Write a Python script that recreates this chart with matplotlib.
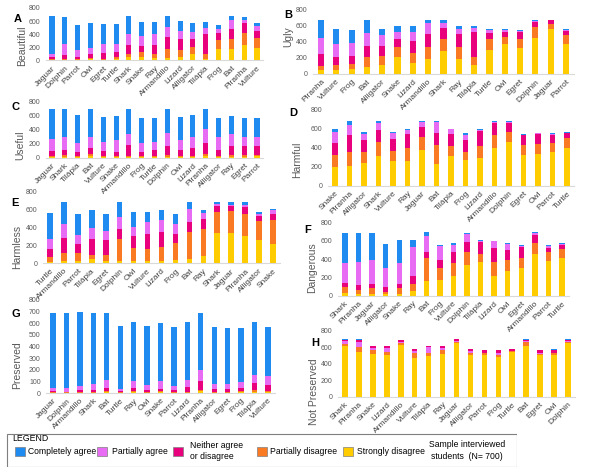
import numpy as np
import matplotlib
matplotlib.use('Agg')
import matplotlib.pyplot as plt
from matplotlib.patches import Rectangle

plt.rcParams['font.family'] = ['Liberation Sans', 'DejaVu Sans']

# legend entries, bottom-to-top stacking order of the bars
levels = ['Strongly disagree', 'Partially disagree', 'Neither agree\nor disagree',
          'Partially agree', 'Completely agree']
colors = ['#ffcc00', '#f97a22', '#e8007d', '#e76bf3', '#1f8bf0']

# each panel: animal order + rows (strongly dis., partially dis., neither, partially agree, completely agree)
beautiful_animals = ['Jaguar', 'Dolphin', 'Parrot', 'Owl', 'Egret', 'Turtle', 'Shark', 'Snake', 'Ray',
                     'Armandillo', 'Lizard', 'Alligator', 'Tilápia', 'Frog', 'Bat', 'Piranha', 'Vulture']
beautiful = [[5, 5, 5, 15, 5, 15, 45, 55, 35, 35, 50, 90, 25, 170, 170, 235, 195],
             [10, 10, 20, 20, 20, 40, 45, 70, 65, 140, 105, 110, 65, 135, 150, 175, 150],
             [30, 65, 30, 55, 80, 70, 145, 100, 135, 185, 170, 125, 310, 105, 155, 165, 100],
             [50, 175, 110, 100, 145, 130, 165, 150, 165, 150, 125, 110, 90, 70, 140, 40, 75],
             [585, 410, 380, 375, 300, 300, 280, 215, 190, 175, 150, 130, 100, 65, 70, 50, 45]]

ugly_animals = ['Piranha', 'Vulture', 'Frog', 'Bat', 'Alligator', 'Snake', 'Lizard', 'Armandillo', 'Shark',
                'Ray', 'Tilápia', 'Turtle', 'Owl', 'Egret', 'Dolphin', 'Jaguar', 'Parrot']
ugly = [[50, 55, 65, 90, 115, 215, 140, 190, 290, 190, 115, 295, 370, 320, 450, 565, 380],
        [55, 60, 65, 125, 105, 125, 120, 145, 150, 150, 95, 140, 90, 115, 140, 60, 110],
        [150, 100, 90, 140, 125, 100, 150, 160, 135, 155, 310, 80, 60, 95, 60, 45, 50],
        [200, 165, 165, 160, 140, 80, 120, 140, 65, 70, 60, 30, 25, 5, 15, 5, 10],
        [225, 180, 160, 155, 80, 80, 65, 45, 40, 35, 20, 15, 15, 10, 15, 5, 10]]

useful_animals = ['Jaguar', 'Shark', 'Tilápia', 'Bat', 'Vulture', 'Snake', 'Armandillo', 'Frog', 'Turtle',
                  'Dolphin', 'Owl', 'Lizard', 'Piranha', 'Alligator', 'Ray', 'Egret', 'Parrot']
useful = [[10, 15, 10, 25, 15, 15, 10, 15, 15, 15, 15, 15, 25, 15, 15, 15, 20],
          [15, 20, 15, 25, 15, 15, 20, 15, 15, 25, 15, 15, 35, 15, 25, 20, 25],
          [75, 80, 60, 85, 60, 55, 150, 55, 85, 130, 80, 110, 155, 85, 130, 135, 125],
          [170, 185, 125, 165, 135, 170, 155, 130, 110, 180, 150, 160, 195, 180, 165, 125, 130],
          [425, 395, 400, 395, 355, 350, 365, 350, 345, 350, 320, 315, 290, 280, 270, 270, 265]]

harmful_animals = ['Snake', 'Piranha', 'Alligator', 'Shark', 'Vulture', 'Ray', 'Jaguar', 'Bat', 'Tilápia',
                   'Frog', 'Lizard', 'Armandillo', 'Dolphin', 'Egret', 'Owl', 'Parrot', 'Turtle']
harmful = [[200, 205, 240, 310, 260, 260, 375, 230, 310, 275, 295, 400, 465, 325, 330, 360, 400],
           [125, 150, 120, 150, 110, 140, 140, 200, 110, 80, 125, 135, 105, 100, 110, 95, 100],
           [130, 185, 125, 130, 125, 150, 110, 130, 125, 130, 155, 130, 95, 110, 110, 85, 55],
           [110, 100, 65, 70, 65, 40, 45, 110, 50, 55, 10, 7, 10, 5, 5, 5, 5],
           [35, 40, 15, 25, 10, 10, 15, 15, 5, 15, 10, 10, 7, 8, 7, 7, 5]]

harmless_animals = ['Turtle', 'Armandillo', 'Parrot', 'Tilápia', 'Egret', 'Dolphin', 'Owl', 'Vulture', 'Lizard',
                    'Frog', 'Bat', 'Ray', 'Shark', 'Jaguar', 'Piranha', 'Alligator', 'Snake']
harmless = [[18, 25, 20, 45, 20, 25, 30, 22, 25, 35, 45, 80, 330, 330, 305, 260, 215],
            [52, 85, 90, 45, 75, 245, 140, 140, 160, 185, 305, 295, 235, 245, 245, 210, 265],
            [85, 165, 100, 175, 160, 105, 135, 160, 160, 100, 105, 120, 70, 60, 75, 55, 65],
            [115, 155, 105, 125, 105, 135, 100, 130, 130, 120, 145, 65, 20, 15, 25, 25, 40],
            [285, 250, 230, 205, 185, 170, 165, 118, 120, 105, 80, 35, 25, 30, 30, 15, 15]]

dangerous_animals = ['Shark', 'Piranha', 'Jaguar', 'Alligator', 'Snake', 'Ray', 'Bat', 'Frog', 'Vulture',
                     'Dolphin', 'Tilápia', 'Lizard', 'Owl', 'Egret', 'Armandillo', 'Parrot', 'Turtle']
dangerous = [[25, 20, 20, 20, 20, 50, 160, 170, 215, 335, 370, 215, 265, 300, 450, 380, 415],
             [70, 45, 60, 25, 60, 80, 250, 130, 140, 145, 85, 155, 125, 110, 125, 95, 95],
             [45, 50, 50, 50, 50, 90, 65, 90, 125, 105, 125, 150, 110, 120, 90, 45, 45],
             [220, 255, 260, 210, 230, 310, 180, 155, 75, 90, 20, 75, 60, 15, 20, 20, 10],
             [320, 310, 290, 260, 245, 80, 40, 5, 15, 5, 5, 5, 10, 5, 10, 10, 7]]

preserved_animals = ['Jaguar', 'Dolphin', 'Armandillo', 'Shark', 'Bat', 'Turtle', 'Ray', 'Owl', 'Snake',
                     'Parrot', 'Lizard', 'Piranha', 'Alligator', 'Egret', 'Frog', 'Tilápia', 'Vulture']
preserved = [[3, 3, 3, 3, 6, 3, 6, 3, 6, 3, 3, 20, 3, 3, 6, 9, 6],
             [6, 3, 6, 6, 8, 6, 8, 8, 8, 6, 6, 10, 8, 8, 8, 17, 11],
             [11, 5, 17, 17, 26, 11, 32, 15, 20, 14, 40, 70, 21, 26, 26, 63, 52],
             [26, 35, 37, 51, 75, 14, 57, 46, 66, 37, 60, 95, 45, 40, 58, 63, 75],
             [645, 645, 630, 615, 577, 546, 505, 508, 500, 505, 500, 490, 491, 480, 459, 456, 424]]

not_preserved_animals = ['Shark', 'Piranha', 'Snake', 'Lizard', 'Armandillo', 'Vulture', 'Tilápia', 'Ray',
                         'Jaguar', 'Alligator', 'Parrot', 'Frog', 'Turtle', 'Bat', 'Egret', 'Owl', 'Dolphin']
not_preserved = [[615, 545, 515, 505, 630, 470, 495, 515, 655, 500, 505, 484, 537, 617, 500, 505, 645],
                 [25, 55, 50, 35, 20, 55, 30, 50, 10, 25, 20, 25, 15, 40, 20, 20, 20],
                 [15, 30, 20, 20, 25, 20, 15, 20, 20, 20, 30, 40, 20, 20, 35, 27, 15],
                 [35, 60, 25, 50, 10, 32, 73, 25, 10, 30, 10, 15, 5, 15, 10, 10, 5],
                 [5, 5, 5, 5, 3, 0, 0, 3, 0, 3, 0, 0, 0, 3, 0, 15, 10]]

W, H = 600, 473
fig = plt.figure(figsize=(6, 4.73), dpi=100)


def px_axes(l, r, t, b):
    # axes from pixel box of the picture
    return fig.add_axes([l / W, 1 - b / H, (r - l) / W, (b - t) / H])


def px_text(x, y, s, **kw):
    fig.text(x / W, 1 - y / H, s, **kw)


def draw_panel(box, animals, data, step=200, order=(0, 1, 2, 3, 4)):
    ax = px_axes(*box)
    x = np.arange(len(animals))
    bottom = np.zeros(len(animals))
    for i in order:
        vals = np.array(data[i], dtype=float)
        ax.bar(x, vals, 0.4, bottom=bottom, color=colors[i], linewidth=0)
        bottom += vals
    ax.set_xlim(-0.5, len(animals) - 0.5)
    ax.set_ylim(0, 800)
    ax.set_yticks(np.arange(0, 801, step))
    ax.set_xticks(x)
    ax.set_xticklabels(animals, rotation=45, ha='right', rotation_mode='anchor',
                       fontsize=6, color='#404040')
    ax.tick_params(axis='x', length=0, pad=3)
    ax.tick_params(axis='y', length=0, labelsize=5, labelcolor='#595959', pad=4)
    for s in ['top', 'right', 'left']:
        ax.spines[s].set_visible(False)
    ax.spines['bottom'].set_color('#d9d9d9')
    ax.patch.set_alpha(0)
    return ax


# panels (left, right, top, bottom in pixels)
draw_panel((45.6, 263.4, 8, 60.3), beautiful_animals, beautiful)
draw_panel((313.3, 573.7, 10, 74), ugly_animals, ugly)
draw_panel((45.6, 263.4, 102, 157.7), useful_animals, useful)
draw_panel((327.7, 574.3, 110, 185.7), harmful_animals, harmful)
draw_panel((43, 280, 191, 263.3), harmless_animals, harmless)
draw_panel((338.2, 568.8, 222.3, 295.7), dangerous_animals, dangerous)
draw_panel((46.3, 274.7, 300, 393), preserved_animals, preserved, step=100)
draw_panel((338, 575, 330.7, 396.7), not_preserved_animals, not_preserved, order=(0, 1, 3, 2, 4))

# panel letters
for letter, (lx, ly) in zip('ABCDEFGH', [(18, 19), (288, 15), (15, 107), (293, 113),
                                          (15, 203), (308, 230), (16, 314), (315, 343)]):
    px_text(lx, ly, letter, fontsize=8, fontweight='bold', ha='center', va='center')

# y labels
ylab = [('Beautiful', 22, 46), ('Ugly', 288, 37), ('Useful', 20, 145), ('Harmful', 297, 160),
        ('Harmless', 17, 247), ('Dangerous', 312, 268), ('Preserved', 17, 365), ('Not Preserved', 314, 392)]
for s, lx, ly in ylab:
    px_text(lx, ly, s, fontsize=7.5, color='#595959', rotation=90, ha='center', va='center')

# legend box
lax = px_axes(6, 517, 433, 467)
lax.set_xlim(6, 517)
lax.set_ylim(467, 433)
lax.axis('off')
lax.add_patch(Rectangle((6.5, 433.5), 510, 33, fill=False, edgecolor='#7f7f7f', linewidth=0.8))
lax.text(12, 438.5, 'LEGEND', fontsize=6.3, va='center', ha='left')
legend_pos = [(343, 357), (257, 270), (173, 190), (97, 112), (15, 28)]
for i, (sx, tx) in enumerate(legend_pos):
    lax.add_patch(Rectangle((sx, 447), 10, 9, facecolor=colors[i], edgecolor='#808080', linewidth=0.5))
    lax.text(tx, 451, levels[i], fontsize=6.2, va='center', ha='left', linespacing=1.3)
lax.text(467, 450.5, 'Sample interviewed\nstudents  (N= 700)', fontsize=6.2, va='center',
         ha='center', linespacing=1.3)

fig.savefig('out.png', dpi=100)
